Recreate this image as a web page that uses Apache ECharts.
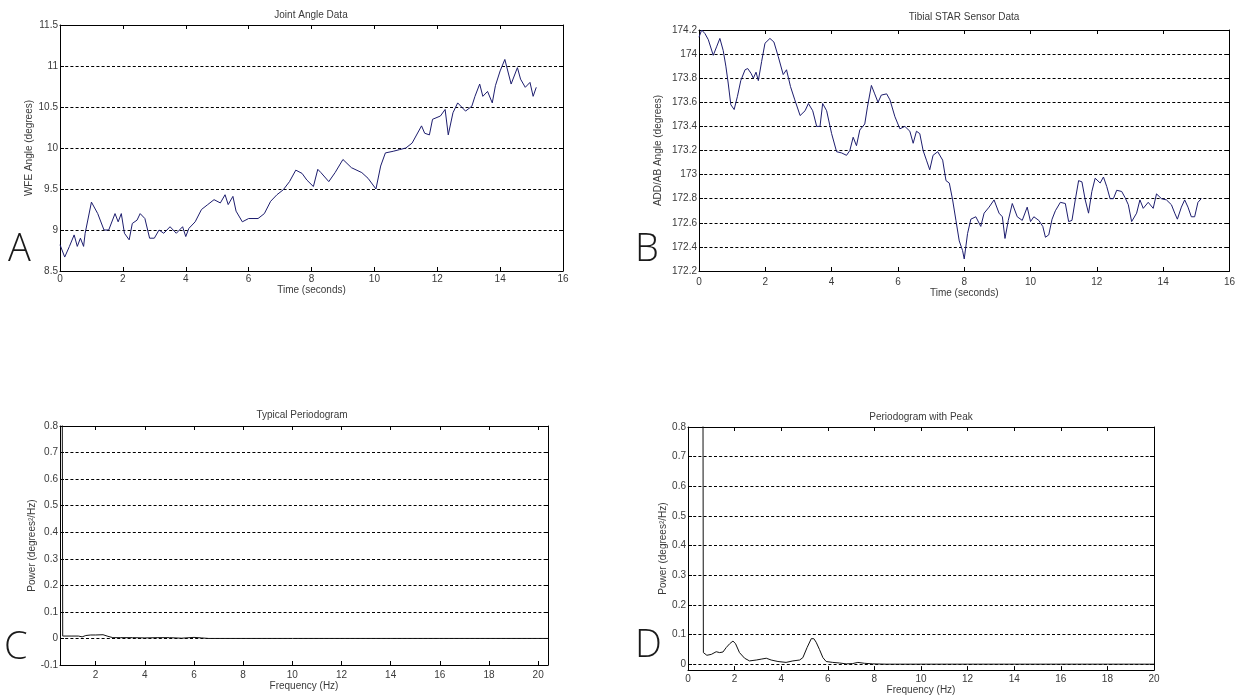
<!DOCTYPE html>
<html>
<head>
<meta charset="utf-8">
<script src="https://cdn.jsdelivr.net/npm/echarts@6/dist/echarts.min.js"></script>
<style>
html, body { margin: 0; padding: 0; background: #fff; }
#chart { width: 1238px; height: 696px; }
</style>
</head>
<body>
<div id="chart"></div>
<script>
// A - joint angle
const timeA = [
  0, 0.15, 0.3, 0.45, 0.55, 0.65, 0.75, 0.8, 1.0, 1.2,
  1.4, 1.55, 1.75, 1.85, 1.95, 2.05, 2.2, 2.3, 2.45, 2.55,
  2.7, 2.85, 3.0, 3.15, 3.3, 3.5, 3.7, 3.9, 4.0, 4.1,
  4.3, 4.5, 4.7, 4.9, 5.1, 5.25, 5.35, 5.5, 5.6, 5.8,
  6.0, 6.3, 6.5, 6.7, 6.9, 7.1, 7.3, 7.5, 7.7, 7.85,
  8.06, 8.2, 8.3, 8.55, 8.75, 9.0, 9.27, 9.6, 9.8, 10.05,
  10.2, 10.35, 10.6, 10.8, 11.0, 11.2, 11.5, 11.6, 11.75, 11.85,
  12.1, 12.25, 12.35, 12.5, 12.65, 12.8, 12.9, 13.1, 13.2, 13.35,
  13.45, 13.6, 13.75, 13.85, 14.0, 14.15, 14.35, 14.55, 14.65, 14.8,
  14.95, 15.05, 15.15
]
const angleA = [
  8.82, 8.67, 8.80, 8.94, 8.80, 8.90, 8.80, 8.96, 9.34, 9.20,
  9.00, 9.00, 9.20, 9.10, 9.20, 8.96, 8.88, 9.08, 9.12, 9.20,
  9.14, 8.90, 8.90, 9.00, 8.96, 9.04, 8.96, 9.04, 8.92, 9.02,
  9.10, 9.25, 9.31, 9.37, 9.33, 9.43, 9.31, 9.41, 9.23, 9.10,
  9.14, 9.14, 9.20, 9.35, 9.43, 9.49, 9.59, 9.73, 9.69, 9.61,
  9.53, 9.74, 9.70, 9.59, 9.70, 9.86, 9.76, 9.70, 9.63, 9.50,
  9.78, 9.94, 9.96, 9.98, 10.00, 10.06, 10.27, 10.18, 10.16, 10.35,
  10.39, 10.47, 10.16, 10.43, 10.55, 10.49, 10.45, 10.51, 10.63, 10.78,
  10.63, 10.69, 10.55, 10.76, 10.94, 11.08, 10.78, 10.98, 10.84, 10.74,
  10.80, 10.63, 10.74
]

// B - sensor angle
const timeB = [
  0, 0.08, 0.18, 0.28, 0.43, 0.53, 0.63, 0.73, 0.81, 0.88,
  0.96, 1.06, 1.16, 1.26, 1.39, 1.47, 1.57, 1.64, 1.72, 1.79,
  1.89, 1.99, 2.14, 2.26, 2.39, 2.54, 2.64, 2.76, 2.89, 3.05,
  3.2, 3.3, 3.43, 3.55, 3.65, 3.73, 3.85, 4.0, 4.15, 4.3,
  4.45, 4.55, 4.65, 4.75, 4.85, 5.0, 5.08, 5.2, 5.3, 5.4,
  5.5, 5.66, 5.76, 5.91, 6.06, 6.21, 6.36, 6.46, 6.56, 6.66,
  6.76, 6.86, 6.96, 7.06, 7.2, 7.35, 7.45, 7.55, 7.65, 7.75,
  7.85, 7.95, 8.0, 8.1, 8.2, 8.35, 8.5, 8.6, 8.75, 8.9,
  9.05, 9.15, 9.23, 9.33, 9.45, 9.6, 9.75, 9.9, 10.0, 10.1,
  10.25, 10.37, 10.45, 10.55, 10.65, 10.75, 10.9, 11.05, 11.15, 11.25,
  11.35, 11.45, 11.55, 11.65, 11.75, 11.85, 11.95, 12.1, 12.2, 12.3,
  12.4, 12.5, 12.6, 12.75, 12.85, 12.95, 13.05, 13.2, 13.3, 13.4,
  13.55, 13.7, 13.8, 13.95, 14.1, 14.25, 14.35, 14.43, 14.55, 14.65,
  14.75, 14.85, 14.95, 15.05, 15.15
]
const angleB = [
  174.14, 174.2, 174.17, 174.12, 173.99, 174.06, 174.13, 174.03, 173.90, 173.76,
  173.58, 173.54, 173.65, 173.78, 173.87, 173.88, 173.84, 173.80, 173.85, 173.78,
  173.94, 174.09, 174.13, 174.10, 173.98, 173.83, 173.87, 173.73, 173.62, 173.49,
  173.53, 173.59, 173.53, 173.40, 173.40, 173.59, 173.53, 173.34, 173.19, 173.18,
  173.16, 173.20, 173.31, 173.24, 173.37, 173.42, 173.56, 173.74, 173.67, 173.60,
  173.66, 173.67, 173.62, 173.48, 173.38, 173.40, 173.36, 173.26, 173.36, 173.34,
  173.20, 173.12, 173.04, 173.16, 173.19, 173.12, 172.95, 172.93, 172.79, 172.62,
  172.45, 172.37, 172.30, 172.51, 172.63, 172.65, 172.57, 172.68, 172.73, 172.79,
  172.68, 172.65, 172.47, 172.62, 172.76, 172.65, 172.62, 172.73, 172.61, 172.65,
  172.62, 172.57, 172.48, 172.50, 172.63, 172.70, 172.77, 172.76, 172.61, 172.62,
  172.79, 172.95, 172.94, 172.79, 172.68, 172.86, 172.97, 172.93, 172.98, 172.90,
  172.80, 172.80, 172.87, 172.86, 172.81, 172.75, 172.61, 172.68, 172.79, 172.72,
  172.77, 172.72, 172.84, 172.80, 172.79, 172.75, 172.68, 172.63, 172.73, 172.79,
  172.73, 172.65, 172.65, 172.77, 172.80
]

// C - typical periodogram
const freqC = [0.63, 0.66, 1.0, 1.3, 1.45, 1.6, 1.8, 2.0, 2.3, 2.5,
  2.7, 3.0, 3.5, 4.0, 4.5, 5.0, 5.5, 6.0, 6.3, 6.6,
  8, 10, 12, 14, 16, 18, 20, 20.4]
const powerC = [1.5, 0.009, 0.009, 0.009, 0.006, 0.011, 0.013, 0.013, 0.014, 0.008,
  0.003, 0.003, 0.003, 0.002, 0.003, 0.003, 0.001, 0.004, 0.002, 0,
  0, 0, 0, 0, 0, 0, 0, 0]

// D - periodogram with peak
const freqD = [0.63, 0.66, 0.81, 1.0, 1.21, 1.36, 1.5, 1.64, 1.79, 1.93,
  2.04, 2.21, 2.43, 2.64, 2.93, 3.14, 3.36, 3.57, 3.86, 4.21,
  4.5, 4.79, 4.93, 5.11, 5.29, 5.4, 5.5, 5.64, 5.79, 5.93,
  6.21, 6.5, 6.79, 7.07, 7.29, 7.57, 7.93, 8.5, 10, 12,
  14, 16, 18, 20]
const powerD = [1.5, 0.039, 0.030, 0.033, 0.042, 0.039, 0.041, 0.056, 0.069, 0.078,
  0.069, 0.039, 0.020, 0.011, 0.014, 0.017, 0.020, 0.014, 0.009, 0.006,
  0.011, 0.014, 0.022, 0.056, 0.086, 0.086, 0.074, 0.050, 0.022, 0.009,
  0.006, 0.004, 0.001, 0.002, 0.006, 0.003, 0.001, 0, 0, 0,
  0, 0, 0, 0]

// tick labels
const timeTicks = [0, 2, 4, 6, 8, 10, 12, 14, 16]
const freqTicksC = [2, 4, 6, 8, 10, 12, 14, 16, 18, 20]
const freqTicksD = [0, 2, 4, 6, 8, 10, 12, 14, 16, 18, 20]
const angleTicksA = [8.5, 9, 9.5, 10, 10.5, 11, 11.5]
const angleTicksB = [172.2, 172.4, 172.6, 172.8, 173, 173.2, 173.4, 173.6, 173.8, 174, 174.2]
const powerTicksC = [-0.1, 0, 0.1, 0.2, 0.3, 0.4, 0.5, 0.6, 0.7, 0.8]
const powerTicksD = [0, 0.1, 0.2, 0.3, 0.4, 0.5, 0.6, 0.7, 0.8]

const FONT = '"Liberation Sans", Arial, sans-serif'
const TXT = '#3a3a3a'

function zip(xs, ys) {
  return xs.map(function (x, i) { return [x, ys[i]] })
}

function xPair(grid, min, max, ticks, name, nameGap, labelMargin) {
  let bottom = {
    type: 'value', gridIndex: grid, position: 'bottom', min: min, max: max,
    name: name, nameLocation: 'middle', nameGap: nameGap,
    nameTextStyle: { fontFamily: FONT, fontSize: 10, color: TXT },
    axisLine: { onZero: false, lineStyle: { color: '#000', width: 1 } },
    axisTick: { inside: true, length: 4, customValues: ticks, lineStyle: { color: '#000' } },
    axisLabel: { customValues: ticks, fontFamily: FONT, fontSize: 10, color: TXT, margin: labelMargin },
    splitLine: { show: false }
  }
  let top = {
    type: 'value', gridIndex: grid, position: 'top', min: min, max: max,
    axisLine: { onZero: false, lineStyle: { color: '#000', width: 1 } },
    axisTick: { inside: true, length: 4, customValues: ticks, lineStyle: { color: '#000' } },
    axisLabel: { show: false },
    splitLine: { show: false }
  }
  return [bottom, top]
}

function yPair(grid, min, max, ticks, name, nameGap) {
  let left = {
    type: 'value', gridIndex: grid, position: 'left', min: min, max: max,
    name: name, nameLocation: 'middle', nameGap: nameGap,
    nameTextStyle: { fontFamily: FONT, fontSize: 10, color: TXT },
    axisLine: { show: true, onZero: false, lineStyle: { color: '#000', width: 1 } },
    axisTick: { show: true, inside: true, length: 4, customValues: ticks, lineStyle: { color: '#000' } },
    axisLabel: { customValues: ticks, fontFamily: FONT, fontSize: 10, color: TXT, margin: 2 },
    splitLine: { show: true, lineStyle: { color: '#000', width: 1, type: [3, 2.2] } }
  }
  let right = {
    type: 'value', gridIndex: grid, position: 'right', min: min, max: max,
    axisLine: { show: true, onZero: false, lineStyle: { color: '#000', width: 1 } },
    axisTick: { show: true, inside: true, length: 4, customValues: ticks, lineStyle: { color: '#000' } },
    axisLabel: { show: false },
    splitLine: { show: false }
  }
  return [left, right]
}

function lineSeries(grid, data, color) {
  return {
    type: 'line', xAxisIndex: grid * 2, yAxisIndex: grid * 2,
    data: data, showSymbol: false, symbol: 'none', clip: true,
    lineStyle: { color: color, width: 1 }, itemStyle: { color: color },
    silent: true
  }
}

function label(text, x, y, size, align) {
  return {
    type: 'text', x: x, y: y, silent: true,
    style: {
      text: text, font: size + 'px ' + FONT, fill: TXT,
      textAlign: align || 'center', align: align || 'center',
      textVerticalAlign: 'middle', verticalAlign: 'middle'
    }
  }
}

function letter(text, x, y) {
  return {
    type: 'text', x: x, y: y, silent: true,
    style: {
      text: text, font: '300 38px "Open Sans", "Liberation Sans", sans-serif', fill: '#1a1a1a',
      textAlign: 'left', align: 'left', textVerticalAlign: 'middle', verticalAlign: 'middle'
    }
  }
}

let chart = echarts.init(document.getElementById('chart'))
let option = {
  animation: false,
  backgroundColor: '#fff',
  grid: [
    { left: 60, top: 25, width: 503, height: 246 },
    { left: 699, top: 30, width: 533, height: 241 },
    { left: 60, top: 426, width: 488, height: 239 },
    { left: 688, top: 427, width: 466, height: 246 }
  ],
  xAxis: [].concat(
    xPair(0, 0, 16, timeTicks, 'Time (seconds)', 13, 3),
    xPair(1, 0, 16, timeTicks, 'Time (seconds)', 16, 6),
    xPair(2, 0.55, 20.4, freqTicksC, 'Frequency (Hz)', 15, 5),
    xPair(3, 0, 20, freqTicksD, 'Frequency (Hz)', 14, 4)
  ),
  yAxis: [].concat(
    yPair(0, 8.5, 11.5, angleTicksA, 'WFE Angle (degrees)', 26),
    yPair(1, 172.2, 174.2, angleTicksB, 'ADD/AB Angle (degrees)', 36),
    yPair(2, -0.1, 0.8, powerTicksC, 'Power (degrees²/Hz)', 23),
    yPair(3, -0.02, 0.8, powerTicksD, 'Power (degrees²/Hz)', 16)
  ),
  series: [
    lineSeries(0, zip(timeA, angleA), '#1d1d6e'),
    lineSeries(1, zip(timeB, angleB), '#1d1d6e'),
    lineSeries(2, zip(freqC, powerC), '#111'),
    lineSeries(3, zip(freqD, powerD), '#111')
  ],
  graphic: [
    label('Joint Angle Data', 311, 15, 10),
    label('Tibial STAR Sensor Data', 964, 17, 10),
    label('Typical Periodogram', 302, 415, 10),
    label('Periodogram with Peak', 921, 417, 10),
    letter('A', 8, 250),
    letter('B', 635, 250),
    letter('C', 4, 648),
    letter('D', 635, 646)
  ]
}
chart.setOption(option)
</script>
</body>
</html>
